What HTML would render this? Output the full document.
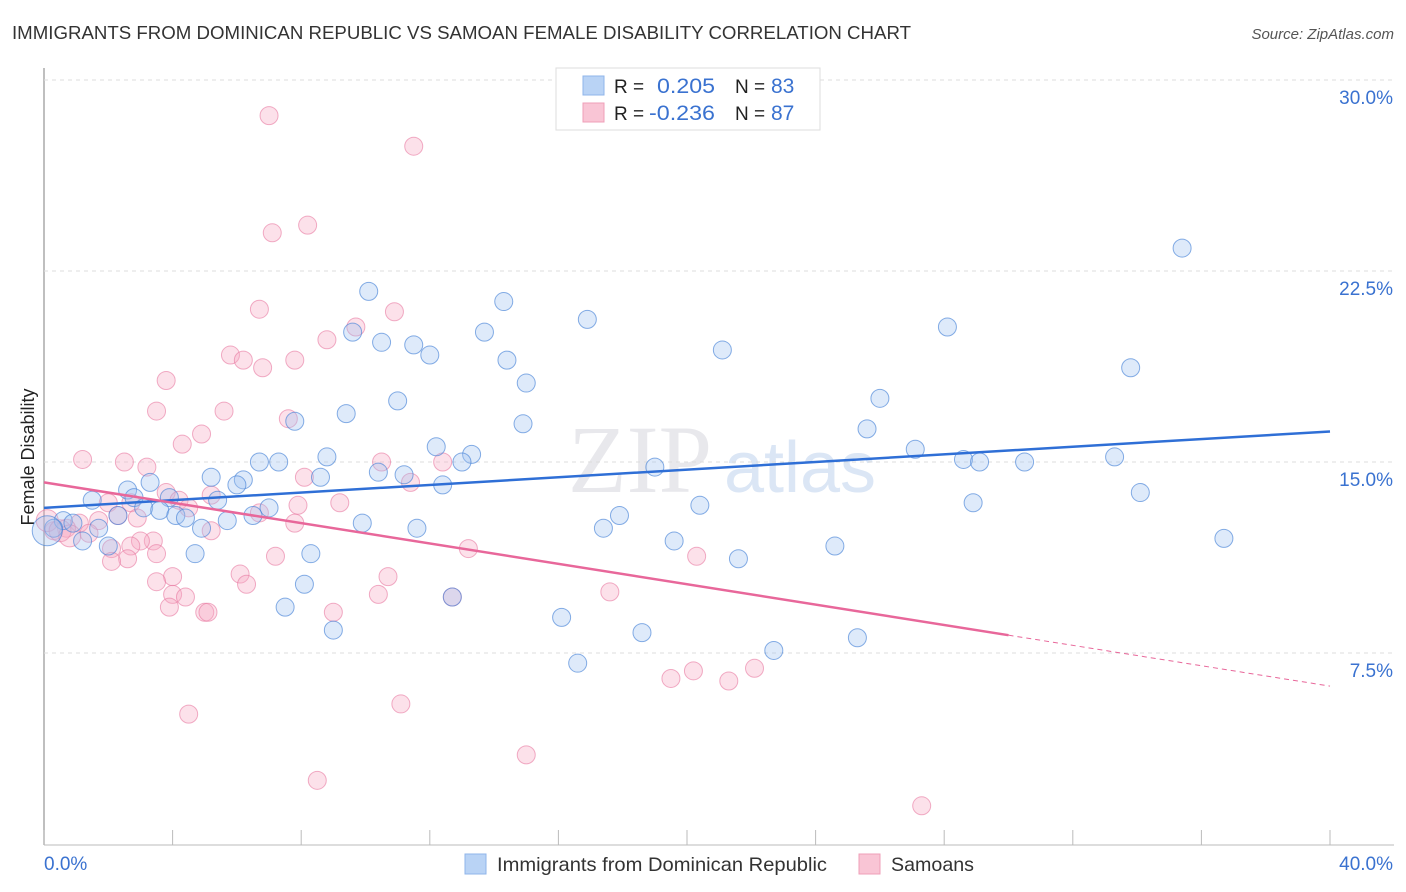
<!DOCTYPE html>
<html><head><meta charset="utf-8">
<style>
body{margin:0;background:#fff;font-family:"Liberation Sans",sans-serif;}
#wrap{position:relative;width:1406px;height:892px;overflow:hidden;}
</style></head>
<body>
<div id="wrap">
<svg id="svg" width="1406" height="892" xmlns="http://www.w3.org/2000/svg" font-family="Liberation Sans, sans-serif">
<text x="12" y="39" font-size="18" fill="#333" textLength="899" lengthAdjust="spacingAndGlyphs">IMMIGRANTS FROM DOMINICAN REPUBLIC VS SAMOAN FEMALE DISABILITY CORRELATION CHART</text>
<text x="1394" y="39" font-size="15" fill="#555" font-style="italic" text-anchor="end">Source: ZipAtlas.com</text>
<text transform="translate(34,457) rotate(-90)" font-size="18" fill="#222" text-anchor="middle">Female Disability</text>
<text x="640" y="492" font-size="96" fill="#e8e8ec" font-family="Liberation Serif, serif" text-anchor="middle">ZIP</text>
<text x="800" y="492" font-size="72" fill="#dbe6f5" text-anchor="middle">atlas</text>
<g id="grid"></g>
<g id="pts"></g>
<g id="lines"></g>
<g>
<rect x="556" y="68" width="264" height="62" fill="#fff" stroke="#ddd"/>
<rect x="583" y="76" width="21" height="19" fill="#b9d3f5" stroke="#8fb4ea"/>
<text x="614" y="93" font-size="19" fill="#222">R =</text>
<text x="657" y="93" font-size="21" fill="#3a72d0" textLength="58" lengthAdjust="spacingAndGlyphs">0.205</text>
<text x="735" y="93" font-size="19" fill="#222">N =</text>
<text x="771" y="93" font-size="21" fill="#3a72d0">83</text>
<rect x="583" y="103" width="21" height="19" fill="#f9c5d5" stroke="#ef9fb8"/>
<text x="614" y="120" font-size="19" fill="#222">R =</text>
<text x="649" y="120" font-size="21" fill="#3a72d0" textLength="66" lengthAdjust="spacingAndGlyphs">-0.236</text>
<text x="735" y="120" font-size="19" fill="#222">N =</text>
<text x="771" y="120" font-size="21" fill="#3a72d0">87</text>
</g>
<g>
<rect x="465" y="854" width="21" height="20" fill="#b9d3f5" stroke="#8fb4ea"/>
<text x="497" y="871" font-size="19.5" fill="#333" textLength="330" lengthAdjust="spacingAndGlyphs">Immigrants from Dominican Republic</text>
<rect x="859" y="854" width="21" height="20" fill="#f9c5d5" stroke="#ef9fb8"/>
<text x="891" y="871" font-size="19.5" fill="#333" textLength="83" lengthAdjust="spacingAndGlyphs">Samoans</text>
</g>
<text x="44" y="870" font-size="19" fill="#3a72d0">0.0%</text>
<text x="1393" y="870" font-size="19" fill="#3a72d0" text-anchor="end">40.0%</text>
</svg>
</div>
<script>
const yTicks=[7.5,15,22.5,30];
const yTickLabels=["7.5%","15.0%","22.5%","30.0%"];
const blueX=[35.4,28.1,33.8,21.1,16.9,14.3,10.1,9.6,10.5,11.5,12.0,13.7,14.4,15.0,11.0,26.0,25.6,7.8,9.4,14.9,12.2,13.3,13.0,8.8,10.4,11.2,8.6,7.3,6.7,5.2,6.2,6.0,3.3,33.3,28.6,29.1,30.5,27.1,19.0,12.4,34.1,28.9,20.4,2.6,1.5,2.8,3.9,5.4,7.0,3.1,3.6,4.1,4.4,5.7,6.5,0.6,0.9,0.3,1.7,2.3,4.9,9.9,11.6,17.4,17.9,36.7,24.6,19.6,21.6,2.0,1.2,4.7,8.3,8.1,12.7,7.5,9.0,16.1,18.6,25.3,22.7,16.6,0.1];
const blueY=[23.4,20.3,18.7,19.4,20.6,21.3,21.7,20.1,19.7,19.6,19.2,20.1,19.0,18.1,17.4,17.5,16.3,16.6,16.9,16.5,15.6,15.3,15.0,15.2,14.6,14.5,14.4,15.0,15.0,14.4,14.3,14.1,14.2,15.2,15.1,15.0,15.0,15.5,14.8,14.1,13.8,13.4,13.3,13.9,13.5,13.6,13.6,13.5,13.2,13.2,13.1,12.9,12.8,12.7,12.9,12.7,12.6,12.4,12.4,12.9,12.4,12.6,12.4,12.4,12.9,12.0,11.7,11.9,11.2,11.7,11.9,11.4,11.4,10.2,9.7,9.3,8.4,8.9,8.3,8.1,7.6,7.1,12.3];
const pinkX=[7.0,11.5,8.2,7.1,6.7,10.9,9.7,8.8,5.8,6.2,7.8,6.8,3.8,3.5,5.6,7.6,4.3,4.9,1.2,2.5,3.2,10.5,12.4,11.4,8.1,3.8,5.2,2.0,2.7,4.2,4.5,2.3,2.9,1.7,1.1,0.7,0.3,1.4,3.4,3.0,2.7,2.1,3.5,7.9,9.2,7.8,6.7,5.2,7.2,13.2,20.3,2.6,2.1,4.0,6.1,6.3,3.5,10.7,17.6,10.4,12.7,4.0,4.4,3.9,5.0,5.1,9.0,20.2,19.5,21.3,22.1,4.5,11.1,8.5,15.0,27.3,0.1,0.5,0.8];
const pinkY=[28.6,27.4,24.3,24.0,21.0,20.9,20.3,19.8,19.2,19.0,19.0,18.7,18.2,17.0,17.0,16.7,15.7,16.1,15.1,15.0,14.8,15.0,15.0,14.2,14.4,13.8,13.7,13.4,13.4,13.5,13.2,12.9,12.8,12.7,12.6,12.4,12.3,12.2,11.9,11.9,11.7,11.6,11.4,13.3,13.4,12.6,13.0,12.3,11.3,11.6,11.3,11.2,11.1,10.5,10.6,10.2,10.3,10.5,9.9,9.8,9.7,9.8,9.7,9.3,9.1,9.1,9.1,6.8,6.5,6.4,6.9,5.1,5.5,2.5,3.5,1.5,12.7,12.3,12.1];
const blueTrend=[13.2,16.2];
const pinkTrendStart=14.2, pinkTrendSolidEnd=[30.0,8.2], pinkTrendEnd=6.2;
const X0=44,X1=1330,Y0=844,PXPER=191/7.5;
const sx=v=>X0+(X1-X0)*v/40;
const sy=v=>Y0-v*PXPER;
const NS="http://www.w3.org/2000/svg";
function mk(tag,attrs,parent){const e=document.createElementNS(NS,tag);for(const k in attrs)e.setAttribute(k,attrs[k]);parent.appendChild(e);return e;}
const grid=document.getElementById('grid');
const ax=mk('line',{x1:X0,y1:68,x2:X0,y2:845,stroke:'#aaa','stroke-width':1.5},grid);


const bx=mk('line',{x1:X0,y1:845,x2:1394,y2:845,stroke:'#bbb','stroke-width':1},grid);


for(let i=0;i<=10;i++){const x=sx(i*4);const t=mk('line',{x1:x,y1:830,x2:x,y2:845,stroke:'#bbb'},grid);

}
yTicks.forEach((v,i)=>{const l=mk('line',{x1:X0,y1:sy(v),x2:1394,y2:sy(v),stroke:'#ddd','stroke-dasharray':'4,4'},grid);


const t=mk('text',{x:1393,y:sy(v)+24,'font-size':19,fill:'#3a72d0','text-anchor':'end'},grid);t.textContent=yTickLabels[i];

});
const pts=document.getElementById('pts');
pinkX.forEach((v,i)=>{const r=i>=pinkX.length-3?11:9;const c=mk('circle',{cx:sx(v),cy:sy(pinkY[i]),r:r,fill:'rgba(246,170,195,0.35)',stroke:'rgba(232,120,160,0.6)','stroke-width':1},pts);

});
blueX.forEach((v,i)=>{const r=i==blueX.length-1?15:9;const c=mk('circle',{cx:sx(v),cy:sy(blueY[i]),r:r,fill:'rgba(160,195,240,0.35)',stroke:'rgba(70,130,215,0.65)','stroke-width':1},pts);

});
const lines=document.getElementById('lines');
const b=mk('line',{x1:sx(0),y1:sy(blueTrend[0]),x2:sx(40),y2:sy(blueTrend[1]),stroke:'#2f6fd6','stroke-width':2.5},lines);


const p=mk('line',{x1:sx(0),y1:sy(pinkTrendStart),x2:sx(pinkTrendSolidEnd[0]),y2:sy(pinkTrendSolidEnd[1]),stroke:'#e8679a','stroke-width':2.5},lines);


const pd=mk('line',{x1:sx(pinkTrendSolidEnd[0]),y1:sy(pinkTrendSolidEnd[1]),x2:sx(40),y2:sy(pinkTrendEnd),stroke:'#e8679a','stroke-width':1,'stroke-dasharray':'5,4'},lines);


</script>
</body></html>
